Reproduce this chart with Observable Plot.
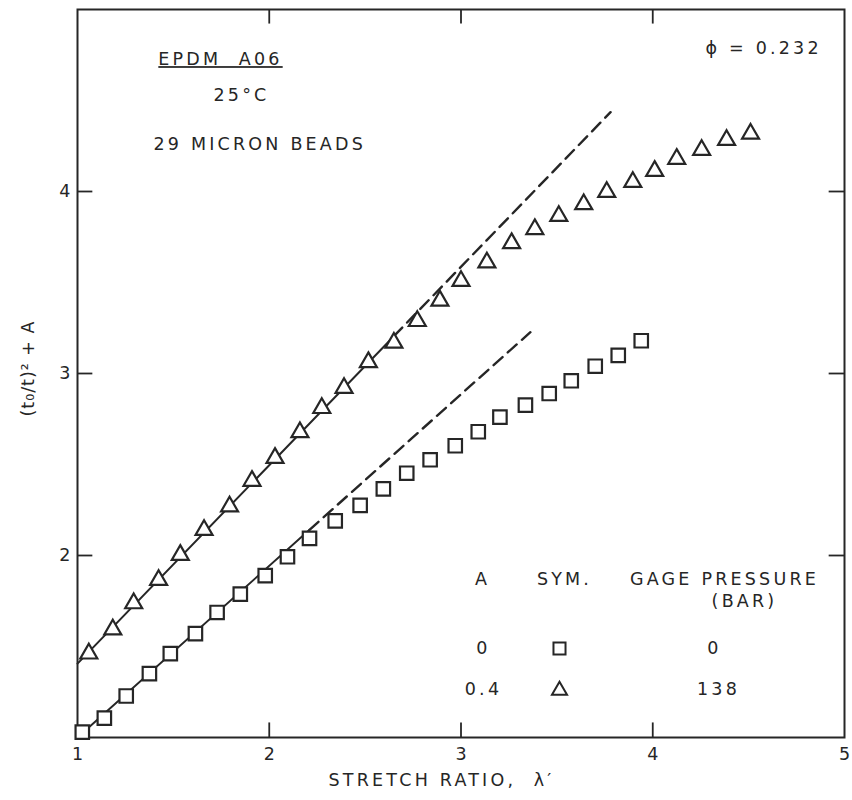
<!DOCTYPE html>
<html><head><meta charset="utf-8">
<script src="https://cdn.jsdelivr.net/npm/d3@7"></script>
<script src="https://cdn.jsdelivr.net/npm/@observablehq/plot@0.6"></script>
<style>
html,body{margin:0;padding:0;background:#fff;}
#chart svg text{letter-spacing:3.2px;}
</style></head><body><div id="chart"></div>
<script>
// ---- data ----
const triX = [1.059, 1.184, 1.293, 1.423, 1.536, 1.66, 1.793, 1.91, 2.03, 2.16, 2.274, 2.39, 2.517, 2.65, 2.772, 2.89, 3.00, 3.135, 3.264, 3.385, 3.51, 3.64, 3.76, 3.896, 4.01, 4.125, 4.255, 4.385, 4.51];
const triY = [1.461, 1.593, 1.737, 1.865, 2.003, 2.14, 2.269, 2.41, 2.536, 2.677, 2.81, 2.92, 3.062, 3.169, 3.288, 3.40, 3.508, 3.61, 3.716, 3.793, 3.865, 3.93, 3.997, 4.052, 4.113, 4.179, 4.228, 4.283, 4.317];
const sqX = [1.025, 1.14, 1.254, 1.375, 1.484, 1.615, 1.728, 1.849, 1.979, 2.095, 2.21, 2.344, 2.474, 2.595, 2.717, 2.839, 2.97, 3.09, 3.203, 3.336, 3.46, 3.575, 3.70, 3.82, 3.94];
const sqY = [1.03, 1.106, 1.228, 1.351, 1.461, 1.571, 1.687, 1.788, 1.889, 1.993, 2.094, 2.19, 2.275, 2.366, 2.452, 2.526, 2.603, 2.68, 2.76, 2.826, 2.89, 2.96, 3.04, 3.10, 3.18];
// fitted lines: solid part [0..1], dashed extension [1..2]
const triFitX = [1.0, 2.65, 3.78];
const triFitY = [1.406, 3.205, 4.436];
const sqFitX = [1.0, 2.21, 3.362];
const sqFitY = [1.0, 2.141, 3.227];
const xTickLabels = [1, 2, 3, 4, 5];
const yTickLabels = [2, 3, 4];
const innerTicks = [2, 3, 4];
const legendA = ["0", "0.4"];
const legendSym = ["square", "triangle"];
const legendPressure = ["0", "138"];

// ---- layout ----
const W = 852, H = 800, mL = 77, mR = 8, mT = 9, mB = 63;
const ink = "#262626";
const fs = 17.5;
const tl = 0.08; // inward tick length in data units
const at = (px, py, extra = {}) => ({frameAnchor: "top-left", dx: px - mL, dy: py - mT, ...extra});

const tri = triX.map((x, i) => ({x, y: triY[i]}));
const sq = sqX.map((x, i) => ({x, y: sqY[i]}));
const triFit = triFitX.map((x, i) => ({x, y: triFitY[i]}));
const sqFit = sqFitX.map((x, i) => ({x, y: sqFitY[i]}));

const txt = (s, px, py, o = {}) => Plot.text([s], at(px, py, {text: d => d, fill: ink, fontSize: fs, textAnchor: "middle", lineAnchor: "middle", ...o}));

const chart = Plot.plot({
  width: W, height: H,
  marginLeft: mL, marginRight: mR, marginTop: mT, marginBottom: mB,
  x: {domain: [1, 5]},
  y: {domain: [1, 5]},
  style: {fontFamily: "DejaVu Sans", fontSize: fs + "px", background: "#fff", color: ink},
  marks: [
    Plot.frame({stroke: ink, strokeWidth: 2}),
    // inward ticks on all four sides
    Plot.ruleX(innerTicks, {x: d => d, y1: 1, y2: 1 + tl, stroke: ink, strokeWidth: 1.8}),
    Plot.ruleX(innerTicks, {x: d => d, y1: 5, y2: 5 - tl, stroke: ink, strokeWidth: 1.8}),
    Plot.ruleY(innerTicks, {y: d => d, x1: 1, x2: 1 + tl, stroke: ink, strokeWidth: 1.8}),
    Plot.ruleY(innerTicks, {y: d => d, x1: 5, x2: 5 - tl, stroke: ink, strokeWidth: 1.8}),
    Plot.axisX({ticks: xTickLabels, tickSize: 0, tickPadding: 10, label: null, fontSize: fs, fill: ink, tickFormat: d => String(d)}),
    Plot.axisY({ticks: yTickLabels, tickSize: 0, tickPadding: 7, label: null, fontSize: fs, fill: ink, tickFormat: d => String(d)}),
    // fitted lines
    Plot.line(triFit.slice(0, 2), {x: "x", y: "y", stroke: ink, strokeWidth: 2}),
    Plot.line(triFit.slice(1), {x: "x", y: "y", stroke: ink, strokeWidth: 2.4, strokeDasharray: "12,7"}),
    Plot.line(sqFit.slice(0, 2), {x: "x", y: "y", stroke: ink, strokeWidth: 2}),
    Plot.line(sqFit.slice(1), {x: "x", y: "y", stroke: ink, strokeWidth: 2.4, strokeDasharray: "12,7"}),
    // data points
    Plot.dot(tri, {x: "x", y: "y", symbol: "triangle", r: 6.3, stroke: ink, strokeWidth: 2.2, fill: "#fff"}),
    Plot.dot(sq, {x: "x", y: "y", symbol: "square", r: 7.6, stroke: ink, strokeWidth: 2.2, fill: "#fff"}),
    // annotations
    txt("EPDM  A06", 220, 59),
    txt("25°C", 241, 95),
    txt("29 MICRON BEADS", 153, 143.5, {textAnchor: "start"}),
    txt("ϕ = 0.232", 705, 48, {textAnchor: "start"}),
    // legend
    txt("A", 482, 579),
    txt("SYM.", 564, 579),
    txt("GAGE PRESSURE", 724, 579),
    txt("(BAR)", 744, 601),
    txt(legendA[0], 483, 648),
    txt(legendPressure[0], 714, 648),
    txt(legendA[1], 483, 689),
    txt(legendPressure[1], 718, 689),
    Plot.dot([legendSym[0]], at(559, 648, {symbol: d => d, r: 6.8, stroke: ink, strokeWidth: 2, fill: "#fff"})),
    Plot.dot([legendSym[1]], at(559, 690, {symbol: d => d, r: 5.6, stroke: ink, strokeWidth: 2, fill: "#fff"})),
    // axis titles
    txt("STRETCH RATIO,  λ′", 441, 780),
    txt("(t₀/t)² + A", 28, 368, {rotate: -90})
  ]
});
document.getElementById("chart").append(chart);
const sel = d3.select(chart).selectAll("text");
// underline the title
sel.filter(function () { return this.textContent === "EPDM  A06"; })
  .style("text-decoration", "underline").style("text-underline-offset", "5px").style("text-decoration-thickness", "1.6px");
// tighter spacing for the rotated y title and the tick labels
sel.filter(function () { return this.textContent === "(t₀/t)² + A"; }).style("letter-spacing", "1px");
d3.select(chart).selectAll("[aria-label^='x-axis'] text, [aria-label^='y-axis'] text").style("letter-spacing", "0px");
</script></body></html>
